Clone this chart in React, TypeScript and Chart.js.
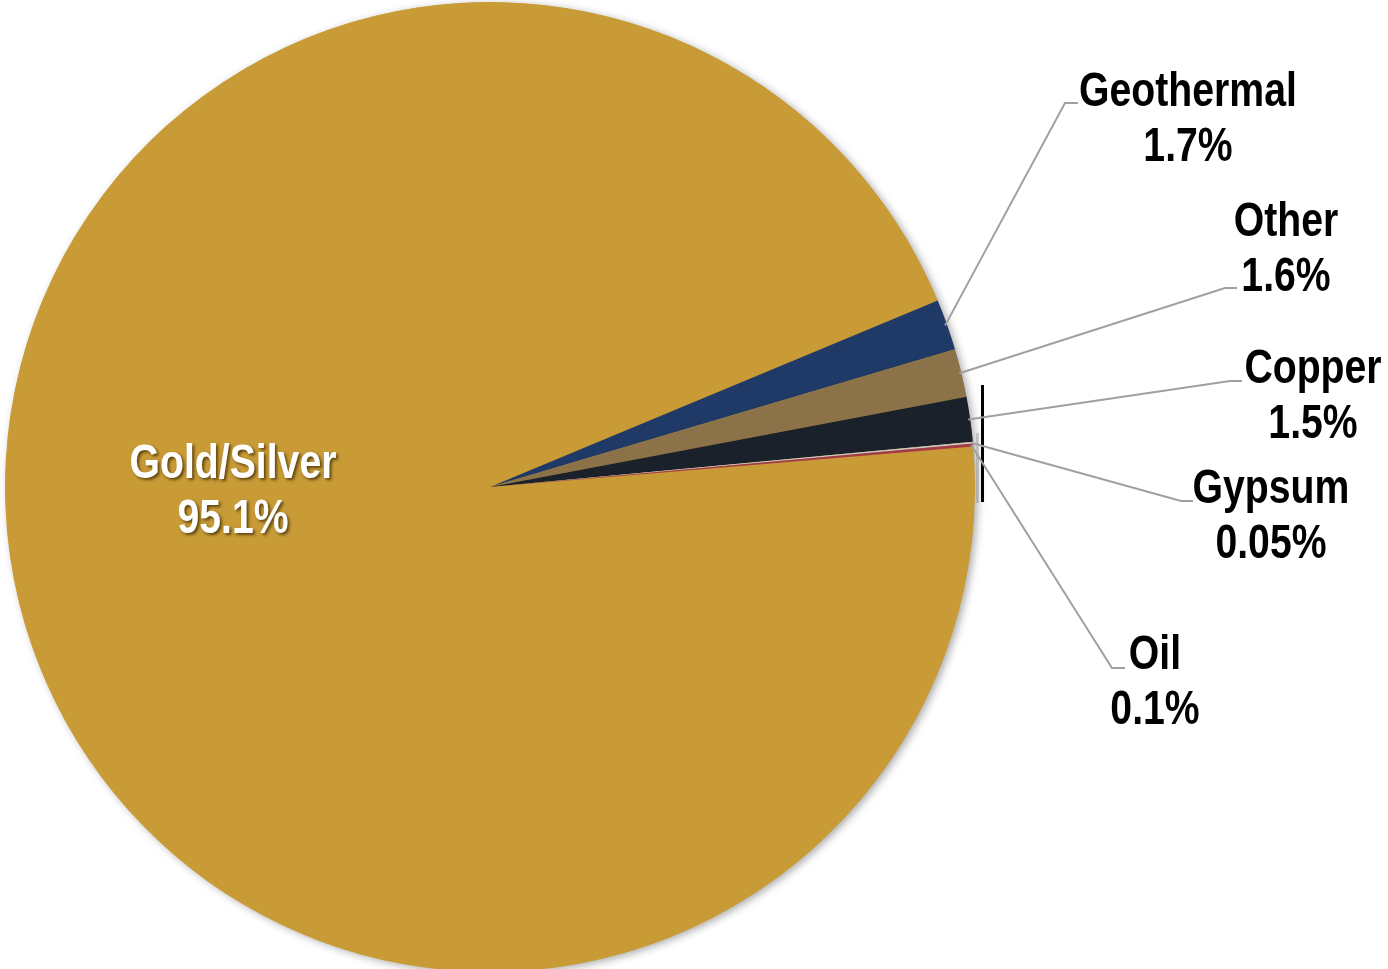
import React, { useEffect, useRef } from "react";
import { Chart, registerables } from "chart.js";

Chart.register(...registerables);

const categories = ["Gold/Silver", "Geothermal", "Other", "Copper", "Gypsum", "Oil"];
const shares = [95.1, 1.7, 1.6, 1.5, 0.05, 0.1];
const shareLabels = ["95.1%", "1.7%", "1.6%", "1.5%", "0.05%", "0.1%"];
const sliceColors = ["#C89B36", "#1F3A66", "#8B7249", "#1B212B", "#C9C9C9", "#A33B48"];

// label layout: text centre x, first-line baseline y, elbow point, elbow end x
const labelLayout = [
  { x: 233, y: 478, inside: true },
  { x: 1188, y: 106, ex: 1065, ey: 103, hx: 1078 },
  { x: 1286, y: 236, ex: 1225, ey: 288, hx: 1237 },
  { x: 1313, y: 383, ex: 1230, ey: 381, hx: 1242 },
  { x: 1271, y: 503, ex: 1181, ey: 501, hx: 1193 },
  { x: 1155, y: 669, ex: 1112, ey: 668, hx: 1125 },
];

const FONT = 'bold 49px "Liberation Sans Narrow", "Arial Narrow", "Liberation Sans", sans-serif';
const X_SCALE = 0.8;
const LINE_GAP = 55;

function condensedText(ctx: CanvasRenderingContext2D, text: string, x: number, y: number) {
  ctx.save();
  ctx.translate(x, y);
  ctx.scale(X_SCALE, 1);
  ctx.fillText(text, 0, 0);
  ctx.restore();
}

const shadowPlugin = {
  id: "pieShadow",
  beforeDatasetsDraw(chart: any) {
    const meta = chart.getDatasetMeta(0);
    const arc = meta.data[0];
    if (!arc) return;
    const { x, y, outerRadius } = arc.getProps(["x", "y", "outerRadius"], true);
    const ctx = chart.ctx;
    ctx.save();
    ctx.shadowColor = "rgba(0,0,0,0.35)";
    ctx.shadowBlur = 8;
    ctx.shadowOffsetX = 3;
    ctx.shadowOffsetY = 2;
    ctx.fillStyle = sliceColors[0];
    ctx.beginPath();
    ctx.arc(x, y, outerRadius - 0.5, 0, Math.PI * 2);
    ctx.fill();
    ctx.restore();
  },
};

const labelPlugin = {
  id: "pieLabels",
  afterDatasetsDraw(chart: any) {
    const ctx = chart.ctx;
    const meta = chart.getDatasetMeta(0);
    ctx.save();
    // decorative vertical marker beside the thin slices
    ctx.fillStyle = "rgba(0,0,0,0.15)";
    ctx.fillRect(976, 433, 3, 70);
    ctx.fillStyle = "#000";
    ctx.fillRect(981, 385, 3, 117);

    meta.data.forEach((arc: any, i: number) => {
      const lay = labelLayout[i];
      const p = arc.getProps(["x", "y", "startAngle", "endAngle", "outerRadius"], true);
      ctx.font = FONT;
      ctx.textAlign = "center";
      ctx.textBaseline = "alphabetic";
      if (lay.inside) {
        ctx.save();
        ctx.shadowColor = "rgba(60,40,0,0.75)";
        ctx.shadowBlur = 3;
        ctx.shadowOffsetX = 2;
        ctx.shadowOffsetY = 2;
        ctx.fillStyle = "#FFFFFF";
        condensedText(ctx, categories[i], lay.x, lay.y);
        condensedText(ctx, shareLabels[i], lay.x, lay.y + LINE_GAP);
        ctx.restore();
        return;
      }
      const mid = (p.startAngle + p.endAngle) / 2;
      const sx = p.x + Math.cos(mid) * (p.outerRadius - 2);
      const sy = p.y + Math.sin(mid) * (p.outerRadius - 2);
      ctx.strokeStyle = "#A0A0A0";
      ctx.lineWidth = 2;
      ctx.beginPath();
      ctx.moveTo(sx, sy);
      ctx.lineTo(lay.ex, lay.ey);
      ctx.lineTo(lay.hx, lay.ey);
      ctx.stroke();
      ctx.fillStyle = "#000000";
      condensedText(ctx, categories[i], lay.x, lay.y);
      condensedText(ctx, shareLabels[i], lay.x, lay.y + LINE_GAP);
    });
    ctx.restore();
  },
};

export default function App() {
  const ref = useRef<HTMLCanvasElement>(null);
  useEffect(() => {
    document.body.style.margin = "0";
    document.body.style.overflow = "hidden";
    const canvas = ref.current!;
    const chart = new Chart(canvas, {
      type: "pie",
      data: {
        labels: categories,
        datasets: [
          {
            data: shares,
            backgroundColor: sliceColors,
            borderWidth: 0,
          },
        ],
      },
      options: {
        responsive: false,
        animation: false,
        rotation: 85.2,
        layout: { padding: { left: 5, right: 413, top: 2, bottom: 2 } },
        plugins: {
          legend: { display: false },
          tooltip: { enabled: false },
        },
      },
      plugins: [shadowPlugin, labelPlugin],
    });
    return () => chart.destroy();
  }, []);
  return (
    <div style={{ width: 1388, height: 969, overflow: "hidden", background: "#fff" }}>
      <canvas ref={ref} width={1388} height={974} style={{ display: "block" }} />
    </div>
  );
}
